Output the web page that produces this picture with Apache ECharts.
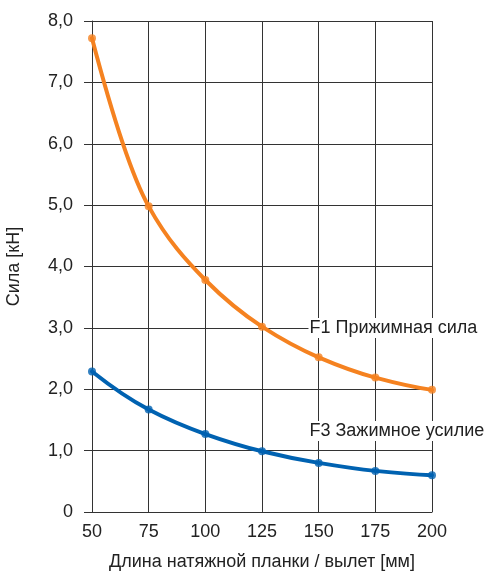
<!DOCTYPE html>
<html><head><meta charset="utf-8">
<script src="https://cdn.jsdelivr.net/npm/echarts@6/dist/echarts.min.js"></script>
<style>html,body{margin:0;padding:0;background:#fff}#c{width:491px;height:572px}</style>
</head><body><div id="c"></div>
<script>
const xValues = [50, 75, 100, 125, 150, 175, 200];
const f1Values = [7.72, 4.98, 3.78, 3.02, 2.52, 2.19, 1.99];
const f3Values = [2.29, 1.67, 1.27, 0.99, 0.80, 0.67, 0.60];
const seriesNames = ['F1 Прижимная сила', 'F3 Зажимное усилие'];
const labelAnchors = [[145.5, 3.0], [145.5, 1.32]];
const xTitle = 'Длина натяжной планки / вылет [мм]';
const yTitle = 'Сила [кН]';

const chart = echarts.init(document.getElementById('c'));
const font = 'Liberation Sans, Arial, Helvetica, sans-serif';
const fs = 18;

// monotone Hermite tangents (Fritsch-Butland) for smooth drawing between the data points
function tangents(xs, ys) {
  const n = xs.length, d = [], m = [];
  for (let i = 0; i < n - 1; i++) d.push((ys[i + 1] - ys[i]) / (xs[i + 1] - xs[i]));
  for (let i = 1; i < n - 1; i++) m[i] = d[i - 1] * d[i] > 0 ? 2 * d[i - 1] * d[i] / (d[i - 1] + d[i]) : 0;
  const h0 = xs[1] - xs[0], h1 = xs[2] - xs[1];
  m[0] = ((2 * h0 + h1) * d[0] - h0 * d[1]) / (h0 + h1);
  const hn = xs[n - 1] - xs[n - 2], hp = xs[n - 2] - xs[n - 3];
  m[n - 1] = ((2 * hn + hp) * d[n - 2] - hn * d[n - 3]) / (hn + hp);
  return m;
}

function curveSeries(vals, color) {
  const m = tangents(xValues, vals);
  return {
    type: 'custom', z: 4, silent: true,
    data: xValues.slice(0, -1).map((x, i) => [x, vals[i], i]),
    encode: { x: 0, y: 1 },
    renderItem: function (params, api) {
      const i = api.value(2);
      const x0 = xValues[i], x1 = xValues[i + 1], y0 = vals[i], y1 = vals[i + 1];
      const h = (x1 - x0) / 3;
      const p0 = api.coord([x0, y0]);
      const c1 = api.coord([x0 + h, y0 + h * m[i]]);
      const c2 = api.coord([x1 - h, y1 - h * m[i + 1]]);
      const p1 = api.coord([x1, y1]);
      return {
        type: 'bezierCurve',
        shape: { x1: p0[0], y1: p0[1], cpx1: c1[0], cpy1: c1[1], cpx2: c2[0], cpy2: c2[1], x2: p1[0], y2: p1[1] },
        style: { stroke: color, lineWidth: 4, fill: null, lineCap: 'round' }
      };
    }
  };
}

function pointSeries(name, vals, color, anchor) {
  return {
    name: name, type: 'scatter', z: 6,
    data: xValues.map((x, i) => [x, vals[i]]),
    symbol: 'circle', symbolSize: 8,
    itemStyle: { color: color },
    markPoint: {
      symbol: 'circle', symbolSize: 0,
      data: [{ coord: anchor, value: name }],
      label: {
        show: true, position: 'right', distance: 0,
        formatter: name, color: '#222', fontSize: fs, fontFamily: font,
        backgroundColor: '#fff', padding: [1, 1, 1, 1]
      },
      z: 10
    }
  };
}

chart.setOption({
  animation: false,
  grid: { left: 92, right: 59, top: 21, bottom: 60, outerBoundsMode: 'none', containLabel: false },
  xAxis: {
    type: 'value', min: 50, max: 200, interval: 25,
    name: xTitle, nameLocation: 'middle', nameGap: 41,
    nameTextStyle: { color: '#222', fontSize: fs, fontFamily: font },
    axisLine: { show: true, lineStyle: { color: '#333', width: 1 } },
    axisTick: { show: false },
    axisLabel: { color: '#222', fontSize: fs, fontFamily: font, margin: 11 },
    splitLine: { show: true, lineStyle: { color: '#333', width: 1 } }
  },
  yAxis: {
    type: 'value', min: 0, max: 8, interval: 1,
    name: yTitle, nameLocation: 'middle', nameGap: 69, nameRotate: 90,
    nameTextStyle: { color: '#222', fontSize: fs, fontFamily: font },
    axisLine: { show: true, lineStyle: { color: '#333', width: 1 } },
    axisTick: { show: true, length: 8, lineStyle: { color: '#333', width: 1 } },
    axisLabel: { color: '#222', fontSize: fs, fontFamily: font, margin: 19,
      formatter: v => v === 0 ? '0' : v.toFixed(1).replace('.', ',') },
    splitLine: { show: true, lineStyle: { color: '#333', width: 1 } }
  },
  series: [
    curveSeries(f1Values, '#F58220'),
    curveSeries(f3Values, '#0062B1'),
    pointSeries(seriesNames[0], f1Values, '#F58220', labelAnchors[0]),
    pointSeries(seriesNames[1], f3Values, '#0062B1', labelAnchors[1])
  ]
});
</script></body></html>
